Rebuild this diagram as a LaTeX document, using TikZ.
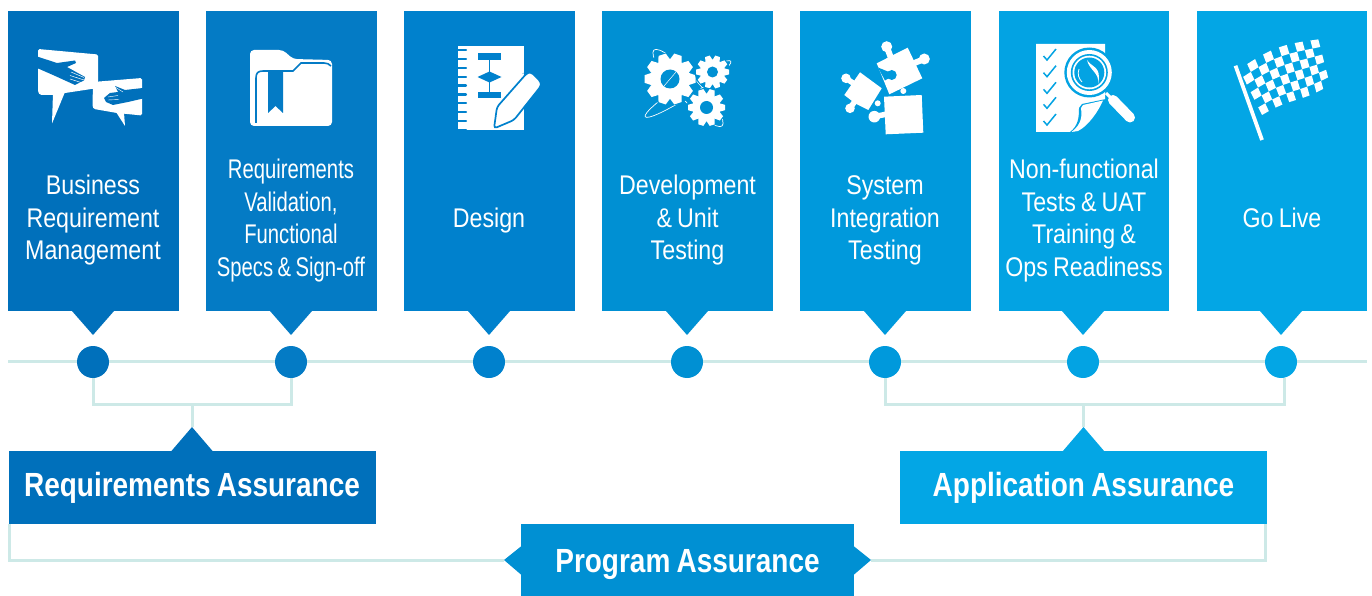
\documentclass[tikz,border=0pt]{standalone}
\usepackage{fontspec}
\setmainfont[FakeStretch=0.86,WordSpace=0.8,BoldFeatures={FakeStretch=0.835}]{Liberation Sans}
\newfontfamily\narrowf[FakeStretch=0.75,WordSpace=0.8]{Liberation Sans}
\usetikzlibrary{backgrounds}
\definecolor{cA}{HTML}{0070BB}
\definecolor{cB}{HTML}{047BC5}
\definecolor{cC}{HTML}{0081CD}
\definecolor{cD}{HTML}{0090D3}
\definecolor{cE}{HTML}{0099DC}
\definecolor{cF}{HTML}{03A3E3}
\definecolor{cG}{HTML}{03A6E5}
\definecolor{linec}{HTML}{CDE9E7}
\tikzset{
  stagebox/.style={fill=#1,draw=none,minimum width=170.5pt,minimum height=300pt,inner sep=0pt,anchor=north west},
  stagetext/.style={text=white,align=center,font=\fontsize{27}{32.5}\selectfont,inner sep=0pt},
  dotnode/.style={circle,fill=#1,minimum size=32pt,inner sep=0pt},
  assure/.style={fill=#1,minimum height=73pt,inner sep=0pt,text=white,font=\bfseries\fontsize{33.5}{38}\selectfont},
  conn/.style={draw=linec,line width=3pt},
}
\newcommand{\gearicon}[7]{% colour x y R r N hole
  \begin{scope}[shift={(#2,#3)}]
    \fill[#1] (0,0) circle (#4+1.2);
    \fill[white] (0,0) circle (#5);
    \foreach \k in {1,...,#6}{
      \fill[white,rotate=\k*360/#6] (#5-1,{-0.3*#5}) -- (#4,{-0.19*#5}) -- (#4,{0.19*#5}) -- (#5-1,{0.3*#5}) -- cycle;
    }
    \fill[#1] (0,0) circle (#7);
  \end{scope}}
\begin{document}
\begin{tikzpicture}[x=1pt,y=-1pt,
  declare function={fx(\u,\v)=(1-\v)*(1239.3+79*\u)+\v*(1262+68*\u);
                    fy(\u,\v)=(1-\v)*(69.3-32*\u-6*sin(\u*200))+\v*(115-30*\u-1.5*sin(\u*360));}]
\useasboundingbox (0,0) rectangle (1372,596);
% stage boxes
\node[stagebox=cA] (b1) at (8,11) {};
\node[stagebox=cB] (b2) at (206,11) {};
\node[stagebox=cC] (b3) at (404,11) {};
\node[stagebox=cD] (b4) at (602,11) {};
\node[stagebox=cE] (b5) at (800,11) {};
\node[stagebox=cF] (b6) at (998.5,11) {};
\node[stagebox=cG] (b7) at (1196.5,11) {};
% pointers
\fill[cA] (72,311) -- (114,311) -- (93,335) -- cycle;
\fill[cB] (270,311) -- (312,311) -- (291,335) -- cycle;
\fill[cC] (468,311) -- (510,311) -- (489,335) -- cycle;
\fill[cD] (666,311) -- (708,311) -- (687,335) -- cycle;
\fill[cE] (864,311) -- (906,311) -- (885,335) -- cycle;
\fill[cF] (1062,311) -- (1104,311) -- (1083,335) -- cycle;
\fill[cG] (1260,311) -- (1302,311) -- (1281,335) -- cycle;
% labels
\node[stagetext] (t1) at (93,220.5) {Business\\Requirement\\Management};
\node[stagetext,font=\narrowf\fontsize{27}{32.5}\selectfont] (t2) at (291,220.5) {Requirements\\Validation,\\Functional\\Specs \& Sign-off};
\node[stagetext] (t3) at (489,220.5) {Design};
\node[stagetext] (t4) at (687.5,220.5) {Development\\\& Unit\\Testing};
\node[stagetext] (t5) at (885,220.5) {System\\Integration\\Testing};
\node[stagetext] (t6) at (1084,220.5) {Non-functional\\Tests \& UAT\\Training \&\\Ops Readiness};
\node[stagetext] (t7) at (1282,218) {Go Live};
% dots
\node[dotnode=cA] (d1) at (93,362) {};
\node[dotnode=cB] (d2) at (291,362) {};
\node[dotnode=cC] (d3) at (489,362) {};
\node[dotnode=cD] (d4) at (687,362) {};
\node[dotnode=cE] (d5) at (885,362) {};
\node[dotnode=cF] (d6) at (1083,362) {};
\node[dotnode=cG] (d7) at (1281,362) {};
% assurance boxes
\node[assure=cA,minimum width=367pt] (ra) at (192,487.5) {Requirements Assurance};
\node[assure=cG,minimum width=367pt] (aa) at (1083.5,487.5) {Application Assurance};
\node[assure=cD,minimum width=333pt,minimum height=72pt,text height=24pt,text depth=0pt] (pa) at (687.5,560) {Program Assurance};
\fill[cA] (171,451.5) -- (213,451.5) -- (192,427) coordinate (ratip) -- cycle;
\fill[cG] (1062.5,451.5) -- (1104.5,451.5) -- (1083.5,427) coordinate (aatip) -- cycle;
\fill[cD] (521.5,546) -- (504,560) coordinate (pal) -- (521.5,575) -- cycle;
\fill[cD] (853.5,546) -- (871,560) coordinate (par) -- (853.5,575) -- cycle;
\coordinate (ls) at (8,361);
\coordinate (le) at (1367,361);
\coordinate (rj) at (192,404);
\coordinate (aj) at (1083.5,404);
\coordinate (re) at (1284,378);
\begin{scope}[on background layer]
  \draw[conn] (ls) -- (le);
  \draw[conn] (d1.south) |- (rj) -| (d2.south);
  \draw[conn] (rj) -- (ratip);
  \draw[conn] (d5.south) |- (aj) -| (re);
  \draw[conn] (aj) -- (aatip);
  \draw[conn] (ra.south west) ++(1.5,0) |- (pal);
  \draw[conn] (aa.south east) ++(-1.5,0) |- (par);
\end{scope}
% --- icon 1: handshake bubbles
\fill[white,rounded corners=1.5pt] (38,49) -- (98,54.5) -- (98,88) -- (65,93) -- (53,95) -- (40,95) -- (38,92) -- cycle;
\fill[white] (65,92) -- (52,123.5) -- (53,93) -- cycle;
\fill[cA] (37,56.5) -- (57,63) -- (75,60.5) -- (76,63) -- (67,67) -- (85,77) -- (84,80.5) -- (75,85) -- (53,75) -- (37,68) -- cycle;
\draw[white,line width=0.5pt] (71,72) -- (84,77.5) (70,75.5) -- (84,80) (70,79) -- (81,82.5);
\fill[white,rounded corners=1.5pt] (93,82) -- (142,78) -- (142,115.5) -- (117,113) -- (94,109) -- (92.5,107) -- cycle;
\fill[white] (116,112) -- (125,126) -- (124,113) -- cycle;
\fill[cA] (143,88) -- (125,90) -- (115,86) -- (118,92) -- (110,93) -- (104,98) -- (106,102) -- (113,105) -- (128,102) -- (143,98.5) -- cycle;
\draw[white,line width=0.4pt] (108,97) -- (118,95.5) (108,100) -- (119,99.5) (115,87) -- (123,92);
% --- icon 2: folder
\fill[white,rounded corners=4pt] (250,126) -- (250,50) -- (283,50) -- (293,59) -- (332,60) -- (332,126) -- cycle;
\draw[cB,line width=1.6pt] (256,123) -- (256,78) .. controls (256,73) and (258,71) .. (263,71) -- (293,71) -- (301,63) -- (324,63) .. controls (327,63) and (329,64) .. (331,66);
\fill[cB] (268,72) -- (283,72) -- (283,113) -- (275.5,106) -- (268,113) -- cycle;
% --- icon 3: notebook
\fill[white] (458,46) rectangle (524,130);
\foreach \n in {0,...,9}{
  \draw[cC,line width=2.2pt,line cap=round] (458,{50+8.9*\n}) -- (466,{50+8.9*\n});
  \fill[white] (458,{47.6+8.9*\n}) rectangle (459.5,{47.6+8.9*\n+0.8});
}
\fill[cC] (478,53) rectangle (501,60);
\fill[cC] (478,92) rectangle (501,98);
\fill[cC] (477.5,77) -- (489.5,71.5) -- (501.5,77) -- (489.5,82.5) -- cycle;
\draw[cC,line width=1.4pt] (489.5,60) -- (489.5,92);
\fill[white,draw=cC,line width=1.7pt,rounded corners=3pt] (494,128.5) -- (497,107) -- (527,73) -- (531,72) -- (541,82) -- (541,86) -- (514,120) -- cycle;
% --- icon 4: gears
\draw[white,line width=0.7pt,rotate around={33:(688,89)}] (688,89) ellipse (51 and 7);
\draw[white,line width=0.7pt,rotate around={-48:(688,88)}] (688,88) ellipse (51 and 11);
\gearicon{cD}{670}{79}{25.5}{20}{10}{9.5}
\gearicon{cD}{712.5}{72}{16.5}{12.5}{10}{5.5}
\gearicon{cD}{706.5}{107.5}{18.5}{14}{10}{6.5}
\draw[white,line width=0.5pt] (664,86) -- (676,72);
% --- icon 5: puzzle
\fill[white] (860,72.3) -- (881.7,88.3) -- (868.3,110) -- (855,103.3) -- (844.3,95) -- cycle;
\fill[white] (846,78.3) circle (4.8);
\fill[white] (850,108.3) circle (4.8);
\draw[white,line width=5.5pt] (846,78.3) -- (853,83) (850,108.3) -- (855,101);
\fill[white] (877.7,103.3) circle (3);
\fill[white] (876.7,63.3) -- (907.7,47.7) -- (922.3,78.3) -- (903,87.7) -- (889.3,94.3) -- cycle;
\fill[white] (886.7,46.7) circle (5.5);
\fill[white] (924.3,59) circle (5.5);
\draw[white,line width=6pt] (886.7,46.7) -- (891,58) (924.3,59) -- (912,64);
\fill[cE] (891.7,75) circle (5);
\fill[cE] (878,67.5) -- (889,72) -- (889,78) -- (885,80.5) -- cycle;
\fill[white] (903.3,91) circle (3);
\fill[cE] (883,95.3) rectangle (899,97);
\fill[white] (884,96.7) -- (921.7,95) -- (923.3,132.7) -- (885.7,134.3) -- cycle;
\fill[white] (874.3,116.7) circle (5.8);
\draw[white,line width=5.5pt] (874.3,116.7) -- (887,114);
% --- icon 6: checklist and magnifier
\fill[white] (1036,44) -- (1105,44) -- (1105,104) -- (1080,132) -- (1036,132) -- cycle;
\foreach \yy in {55,71.7,88.3,103.3,120}{
  \draw[cF,line width=1.5pt] (1043.5,\yy+1) -- (1047,\yy+5) -- (1056,\yy-6);
}
\fill[cF] (1070,132) .. controls (1078,126) and (1079,118) .. (1079,108) -- (1082,104) -- (1106,99) -- (1106,132) -- cycle;
\fill[white] (1071.5,132) .. controls (1082,124) and (1082,116) .. (1081,108) -- (1083,105) -- (1103,100.5) .. controls (1098,112) and (1088,126) .. (1078,131) -- cycle;
\fill[cF] (1089.3,72.5) circle (25);
\fill[white] (1089.3,72.5) circle (22.5);
\fill[cF] (1089.3,72.5) circle (18.5);
\fill[white] (1089.3,72.5) circle (16.8);
\fill[cF] (1089.3,72.5) circle (15);
\fill[white] (1087,60) .. controls (1092,68) and (1102,66) .. (1098,84) .. controls (1100,73) and (1089,70) .. (1087,60) -- cycle;
\draw[white,line width=0.8pt] (1079,69) .. controls (1077,74) and (1079,79) .. (1082,82);
\draw[white,line width=10pt,line cap=round] (1113,100) -- (1130,117.5);
\draw[white,line width=3pt] (1106,93) -- (1111,98);
% --- icon 7: chequered flag
\draw[white,line width=3.8pt] (1235.5,65.7) -- (1262,140);
\foreach \i in {0,...,9}{
  \foreach \j in {0,...,5}{
    \pgfmathtruncatemacro\m{mod(\i+\j,2)}
    \ifnum\m=1
      \fill[white] ({fx(\i/10,\j/6)},{fy(\i/10,\j/6)}) -- ({fx((\i+1)/10,\j/6)},{fy((\i+1)/10,\j/6)}) -- ({fx((\i+1)/10,(\j+1)/6)},{fy((\i+1)/10,(\j+1)/6)}) -- ({fx(\i/10,(\j+1)/6)},{fy(\i/10,(\j+1)/6)}) -- cycle;
    \fi
  }
}
\end{tikzpicture}
\end{document}
